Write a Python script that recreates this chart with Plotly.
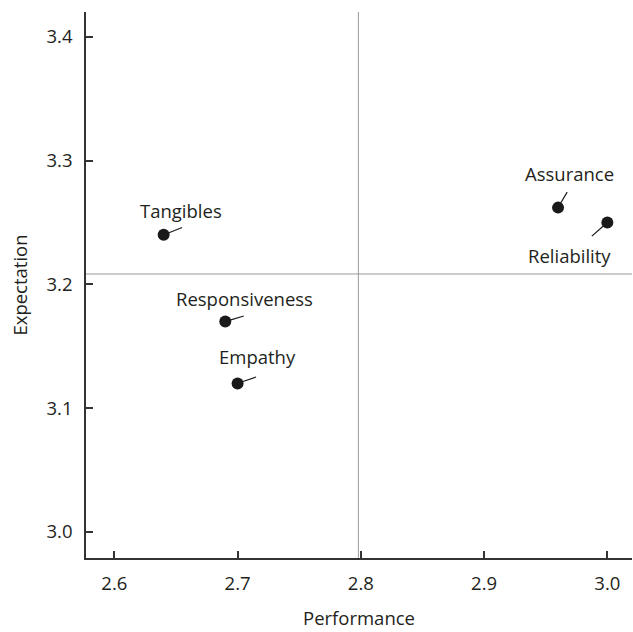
import plotly.graph_objects as go

dimensions = ["Tangibles", "Reliability", "Responsiveness", "Assurance", "Empathy"]
performance = [2.64, 3.00, 2.69, 2.96, 2.70]
expectation = [3.24, 3.25, 3.17, 3.262, 3.12]

x_ticks = [2.6, 2.7, 2.8, 2.9, 3.0]
y_ticks = [3.0, 3.1, 3.2, 3.3, 3.4]

# label placement (pixel offsets): leader-line tail, text centre
leader = {"Tangibles": (20, -8), "Reliability": (-17, 15), "Responsiveness": (20, -6),
          "Assurance": (10, -17), "Empathy": (20, -7)}
text_off = {"Tangibles": (17, -24), "Reliability": (-38, 33), "Responsiveness": (19, -23),
            "Assurance": (11, -34), "Empathy": (20, -27)}

x_mean = sum(performance) / len(performance)
y_mean = sum(expectation) / len(expectation)

FONT = "Open Sans"
FS = 18.5
fig = go.Figure()
fig.add_trace(go.Scatter(x=performance, y=expectation, mode="markers",
                         marker=dict(size=12, color="#1a1a1a"), showlegend=False,
                         text=dimensions, hoverinfo="text+x+y"))

fig.add_vline(x=x_mean, line=dict(color="#9a9a9a", width=1))
fig.add_hline(y=y_mean, line=dict(color="#9a9a9a", width=1))

for name, px, ey in zip(dimensions, performance, expectation):
    lx, ly = leader[name]
    fig.add_annotation(x=px, y=ey, text="", showarrow=True, arrowhead=0,
                       arrowwidth=1.2, arrowcolor="#1a1a1a", ax=lx, ay=ly,
                       standoff=5)
    tx, ty = text_off[name]
    fig.add_annotation(x=px, y=ey, text=name, showarrow=False, xshift=tx, yshift=-ty,
                       font=dict(family=FONT, size=FS, color="#231f20"))

axis_common = dict(showline=True, linecolor="#333333", linewidth=1.5, ticks="inside",
                   ticklen=7, tickcolor="#333333", tickwidth=1.5, showgrid=False,
                   zeroline=False, mirror=False, automargin=False,
                   ticklabelstandoff=8,
                   tickfont=dict(family=FONT, size=FS, color="#231f20"))

fig.update_xaxes(range=[2.577, 3.02], tickvals=x_ticks,
                 ticktext=[f"{v:.1f}" for v in x_ticks],
                 title=dict(text="Performance", font=dict(family=FONT, size=FS, color="#231f20"),
                            standoff=18),
                 **axis_common)
fig.update_yaxes(range=[2.979, 3.42], tickvals=y_ticks,
                 ticktext=[f"{v:.1f}" for v in y_ticks],
                 title=dict(text="Expectation", font=dict(family=FONT, size=FS, color="#231f20"),
                            standoff=14),
                 **axis_common)

fig.update_layout(width=633, height=632, margin=dict(l=86, r=1, t=12, b=74),
                  plot_bgcolor="white", paper_bgcolor="white")
fig.write_html("out.html", config={"displayModeBar": False},
               post_script="document.body.style.margin='0';")
